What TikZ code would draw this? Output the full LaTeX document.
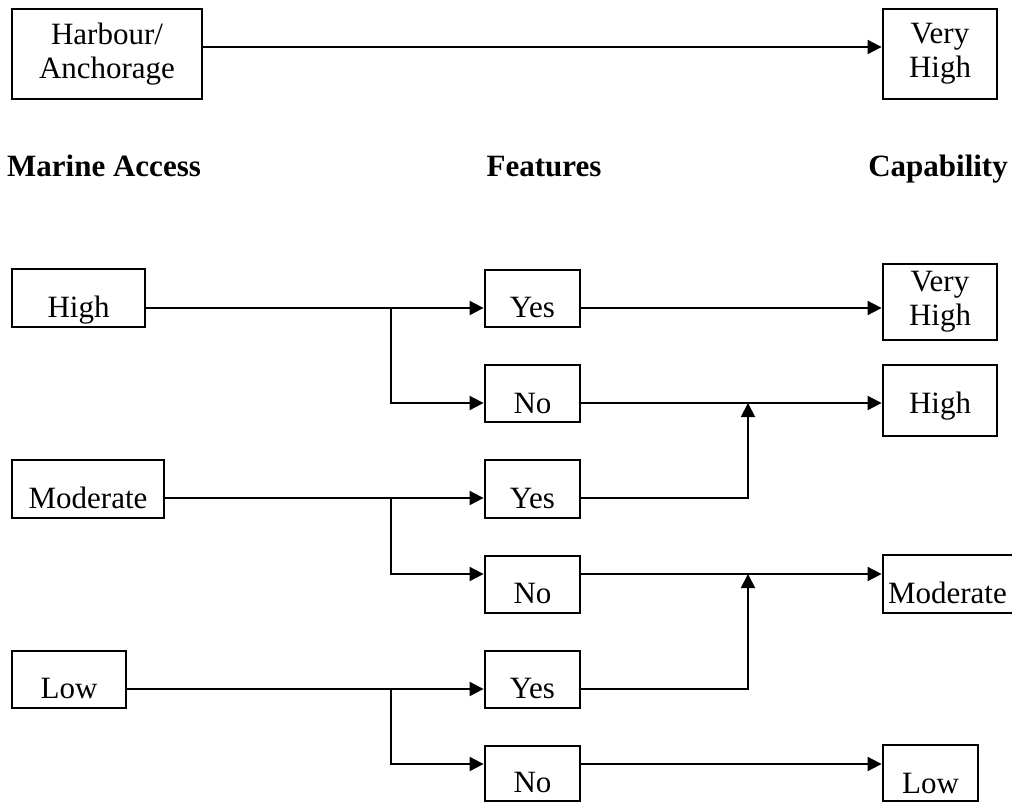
\documentclass[tikz,border=0pt]{standalone}
\usepackage{fontspec}
\setmainfont{Liberation Serif}
\usetikzlibrary{arrows.meta}

\tikzset{
  box/.style={draw=black, line width=2.8pt, inner sep=0pt, fill=white,
    font=\fontsize{31}{34}\selectfont},
  single/.style n args={4}{box, minimum width=#1, minimum height=#2,
    text height=#3, text depth=#4},
  double/.style n args={2}{box, minimum width=#1, minimum height=#2, align=center},
  heading/.style={font=\fontsize{31}{36}\selectfont\bfseries, inner sep=0pt},
  conn/.style={line width=1.9pt, -{Triangle[length=14pt,width=14pt]}},
}

\begin{document}
\begin{tikzpicture}[x=1pt, y=-1pt]
  \useasboundingbox (0,0) rectangle (1012,803);
  \clip (0,0) rectangle (1012,803);

  % harbour row
  \node[double={190pt}{90pt}] (harbour) at (107,54) {Harbour/\\Anchorage};
  \node[double={114pt}{90pt}] (vhtop) at (940,54) {Very\\High};
  \draw[conn] (harbour.east |- 0,47) -- (vhtop.west |- 0,47);

  % column headings
  \node[heading, anchor=base west] (hma) at (7,176) {Marine Access};
  \node[heading, anchor=base] (hfe) at (544,176) {Features};
  \node[heading, anchor=base east] (hca) at (1008,176) {Capability};

  % marine access
  \node[single={133pt}{58pt}{48pt}{10pt}] (ma1) at (78.5,298) {High};
  \node[single={152pt}{58pt}{48pt}{10pt}] (ma2) at (88,489) {Moderate};
  \node[single={114pt}{57pt}{47pt}{10pt}] (ma3) at (69,679.5) {Low};

  % features
  \node[single={95pt}{57pt}{47pt}{10pt}] (f1) at (532.5,298.5) {Yes};
  \node[single={95pt}{57pt}{48pt}{9pt}]  (f2) at (532.5,393.5) {No};
  \node[single={95pt}{58pt}{48pt}{10pt}] (f3) at (532.5,489) {Yes};
  \node[single={95pt}{57pt}{47pt}{10pt}] (f4) at (532.5,584.5) {No};
  \node[single={95pt}{57pt}{47pt}{10pt}] (f5) at (532.5,679.5) {Yes};
  \node[single={95pt}{55pt}{46pt}{9pt}]  (f6) at (532.5,773.5) {No};

  % capability
  \node[double={114pt}{76pt}] (c1) at (940,302) {Very\\High};
  \node[single={114pt}{71pt}{48pt}{23pt}] (c2) at (940,400.5) {High};
  \node[box, text width=137pt, align=left, inner xsep=5pt, minimum height=58pt,
        text height=48pt, text depth=10pt] (c3) at (956.5,584) {Moderate};
  \node[single={95pt}{56pt}{48pt}{8pt}] (c4) at (930.5,773) {Low};

  % branch points and merge points
  \coordinate (j1) at (391,308);
  \coordinate (j2) at (391,498);
  \coordinate (j3) at (391,689);
  \coordinate (m1) at (748,403);
  \coordinate (m2) at (748,574);

  % marine access to features
  \draw[conn] (ma1.east |- j1) -- (f1.west |- j1);
  \draw[conn] (j1) |- (f2.west |- 0,403);
  \draw[conn] (ma2.east |- j2) -- (f3.west |- j2);
  \draw[conn] (j2) |- (f4.west |- 0,574);
  \draw[conn] (ma3.east |- j3) -- (f5.west |- j3);
  \draw[conn] (j3) |- (f6.west |- 0,764);

  % features to capability
  \draw[conn] (f1.east |- j1) -- (c1.west |- j1);
  \draw[conn] (f2.east |- m1) -- (c2.west |- m1);
  \draw[conn] (f3.east |- j2) -| (m1);
  \draw[conn] (f4.east |- m2) -- (c3.west |- m2);
  \draw[conn] (f5.east |- j3) -| (m2);
  \draw[conn] (f6.east |- 0,764) -- (c4.west |- 0,764);
\end{tikzpicture}
\end{document}
